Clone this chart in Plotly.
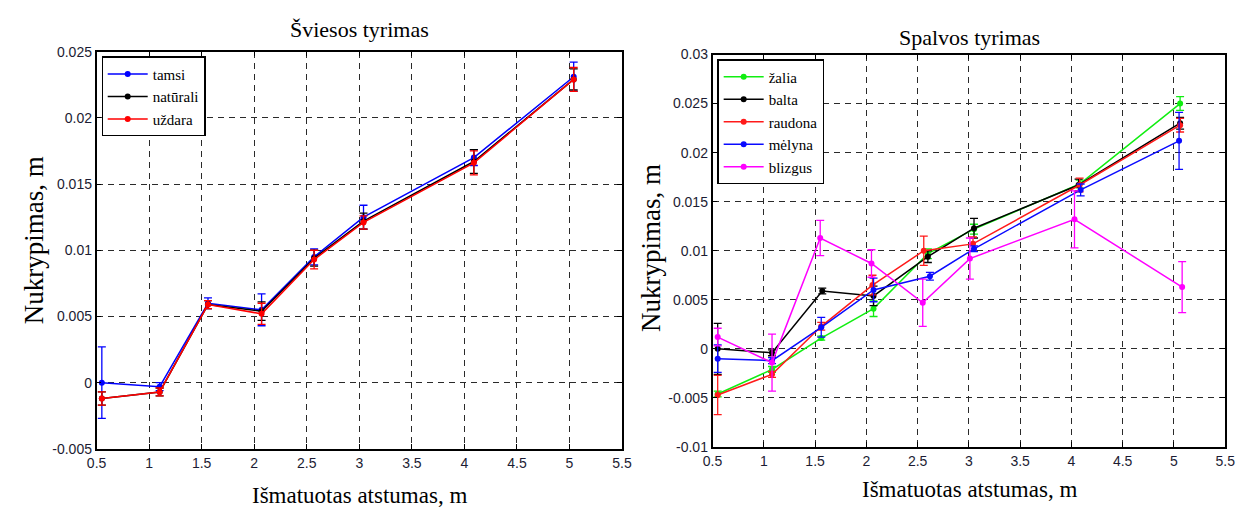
import plotly.graph_objects as go

# ---------------- data ----------------
x_left = [0.55, 1.10, 1.56, 2.07, 2.57, 3.04, 4.09, 5.04]
tamsi = [0.0, -0.0003, 0.0060, 0.0055, 0.0095, 0.0125, 0.0170, 0.0231]
tamsi_err = [0.0027, 0.0003, 0.0004, 0.0012, 0.0006, 0.0009, 0.0006, 0.0011]
naturali = [-0.0012, -0.0007, 0.0059, 0.0054, 0.0094, 0.0122, 0.0167, 0.0229]
naturali_err = [0.0005, 0.0003, 0.0003, 0.0007, 0.0006, 0.0006, 0.0009, 0.0008]
uzdara = [-0.0012, -0.0007, 0.0059, 0.0052, 0.0093, 0.0121, 0.0166, 0.0229]
uzdara_err = [0.0005, 0.0003, 0.0003, 0.0008, 0.0007, 0.0005, 0.0009, 0.0009]

x_zalia = [0.55, 1.08, 1.56, 2.07, 2.60, 3.05, 4.08, 5.06]
zalia = [-0.0046, -0.0021, 0.0011, 0.0041, 0.0097, 0.0122, 0.0168, 0.0250]
zalia_err = [0.0003, 0.0003, 0.0002, 0.0008, 0.0005, 0.0005, 0.0004, 0.0007]
x_balta = [0.55, 1.08, 1.57, 2.07, 2.60, 3.05, 4.07, 5.06]
balta = [0.0, -0.0004, 0.0059, 0.0054, 0.0094, 0.0123, 0.0167, 0.0230]
balta_err = [0.0026, 0.0003, 0.0003, 0.0010, 0.0006, 0.0010, 0.0006, 0.0006]
x_raudona = [0.55, 1.08, 1.56, 2.06, 2.56, 3.04, 4.08, 5.06]
raudona = [-0.0047, -0.0026, 0.0023, 0.0065, 0.0100, 0.0107, 0.0167, 0.0228]
raudona_err = [0.0020, 0.0003, 0.0004, 0.0010, 0.0015, 0.0007, 0.0007, 0.0007]
x_melyna = [0.55, 1.08, 1.56, 2.07, 2.62, 3.05, 4.09, 5.05]
melyna = [-0.0010, -0.0012, 0.0022, 0.0060, 0.0074, 0.0102, 0.0162, 0.0212]
melyna_err = [0.0014, 0.0003, 0.0010, 0.0012, 0.0004, 0.0003, 0.0006, 0.0029]
x_blizgus = [0.55, 1.08, 1.55, 2.05, 2.55, 3.01, 4.03, 5.08]
blizgus = [0.0012, -0.0014, 0.0113, 0.0087, 0.0047, 0.0092, 0.0132, 0.0063]
blizgus_err = [0.0009, 0.0029, 0.0018, 0.0014, 0.0024, 0.0021, 0.0029, 0.0026]

x_ticks = [0.5, 1, 1.5, 2, 2.5, 3, 3.5, 4, 4.5, 5, 5.5]
x_ticktext = ["0.5", "1", "1.5", "2", "2.5", "3", "3.5", "4", "4.5", "5", "5.5"]
yl_ticks = [-0.005, 0, 0.005, 0.01, 0.015, 0.02, 0.025]
yl_ticktext = ["-0.005", "0", "0.005", "0.01", "0.015", "0.02", "0.025"]
yr_ticks = [-0.01, -0.005, 0, 0.005, 0.01, 0.015, 0.02, 0.025, 0.03]
yr_ticktext = ["-0.01", "-0.005", "0", "0.005", "0.01", "0.015", "0.02", "0.025", "0.03"]

W, H = 1248, 517
SERIF = "Liberation Serif, Times New Roman, serif"
SANS = "Liberation Sans Narrow, Arial Narrow, Liberation Sans, Arial, sans-serif"

fig = go.Figure()


def add(x, y, e, name, color, xa, ya, legend):
    fig.add_trace(go.Scatter(
        x=x, y=y, name=name, mode="lines+markers",
        line=dict(color=color, width=1.5),
        marker=dict(color=color, size=6),
        error_y=dict(type="data", array=e, color=color, thickness=1.3, width=4),
        xaxis=xa, yaxis=ya, legend=legend,
    ))


add(x_left, tamsi, tamsi_err, "tamsi", "#0000ff", "x", "y", "legend")
add(x_left, naturali, naturali_err, "natūrali", "#000000", "x", "y", "legend")
add(x_left, uzdara, uzdara_err, "uždara", "#ff0000", "x", "y", "legend")

add(x_zalia, zalia, zalia_err, "žalia", "#11ee11", "x2", "y2", "legend2")
add(x_balta, balta, balta_err, "balta", "#000000", "x2", "y2", "legend2")
add(x_raudona, raudona, raudona_err, "raudona", "#ff1a1a", "x2", "y2", "legend2")
add(x_melyna, melyna, melyna_err, "mėlyna", "#0a0aff", "x2", "y2", "legend2")
add(x_blizgus, blizgus, blizgus_err, "blizgus", "#ff00ff", "x2", "y2", "legend2")

axis_common = dict(
    showline=True, linecolor="black", linewidth=1.6, mirror="allticks",
    ticks="inside", ticklen=5, tickcolor="black",
    showgrid=True, gridcolor="#2a2a2a", griddash="6px,5px", gridwidth=1.2,
    zeroline=False, tickfont=dict(family=SANS, size=14, color="#1c1c33"),
)

legend_font = dict(family=SERIF, size=15, color="black")

fig.update_layout(
    width=W, height=H, margin=dict(l=0, r=0, t=0, b=0),
    paper_bgcolor="white", plot_bgcolor="white",
    xaxis=dict(domain=[88 / W, 622 / W], range=[0.5, 5.5], tickvals=x_ticks,
               ticktext=x_ticktext, anchor="y", **axis_common),
    yaxis=dict(domain=[1 - 455 / H, 1 - 45 / H], range=[-0.005, 0.025],
               tickvals=yl_ticks, ticktext=yl_ticktext, anchor="x", **axis_common),
    xaxis2=dict(domain=[714 / W, 1235 / W], range=[0.5, 5.5], tickvals=x_ticks,
                ticktext=x_ticktext, anchor="y2", **axis_common),
    yaxis2=dict(domain=[1 - 453 / H, 1 - 48 / H], range=[-0.01, 0.03],
                tickvals=yr_ticks, ticktext=yr_ticktext, anchor="x2", **axis_common),
    legend=dict(x=93 / W, y=1 - 50 / H, xanchor="left", yanchor="top",
                bgcolor="white", bordercolor="black", borderwidth=1.2,
                font=legend_font, tracegroupgap=0, itemwidth=40),
    legend2=dict(x=719 / W, y=1 - 53 / H, xanchor="left", yanchor="top",
                 bgcolor="white", bordercolor="black", borderwidth=1.2,
                 font=legend_font, tracegroupgap=0, itemwidth=40),
    showlegend=True,
)

ann = [
    dict(text="Šviesos tyrimas", x=355 / W, y=1 - 22 / H, size=22, angle=0),
    dict(text="Spalvos tyrimas", x=975 / W, y=1 - 30 / H, size=22, angle=0),
    dict(text="Išmatuotas atstumas, m", x=355 / W, y=1 - 503 / H, size=23, angle=0),
    dict(text="Išmatuotas atstumas, m", x=975 / W, y=1 - 497 / H, size=23, angle=0),
    dict(text="Nukrypimas, m", x=24 / W, y=1 - 240 / H, size=27, angle=-90),
    dict(text="Nukrypimas, m", x=652 / W, y=1 - 248 / H, size=27, angle=-90),
]
for a in ann:
    fig.add_annotation(text=a["text"], x=a["x"], y=a["y"], xref="paper", yref="paper",
                       xanchor="center", yanchor="middle", showarrow=False,
                       textangle=a["angle"],
                       font=dict(family=SERIF, size=a["size"], color="black"))

fig.write_html("out.html")
